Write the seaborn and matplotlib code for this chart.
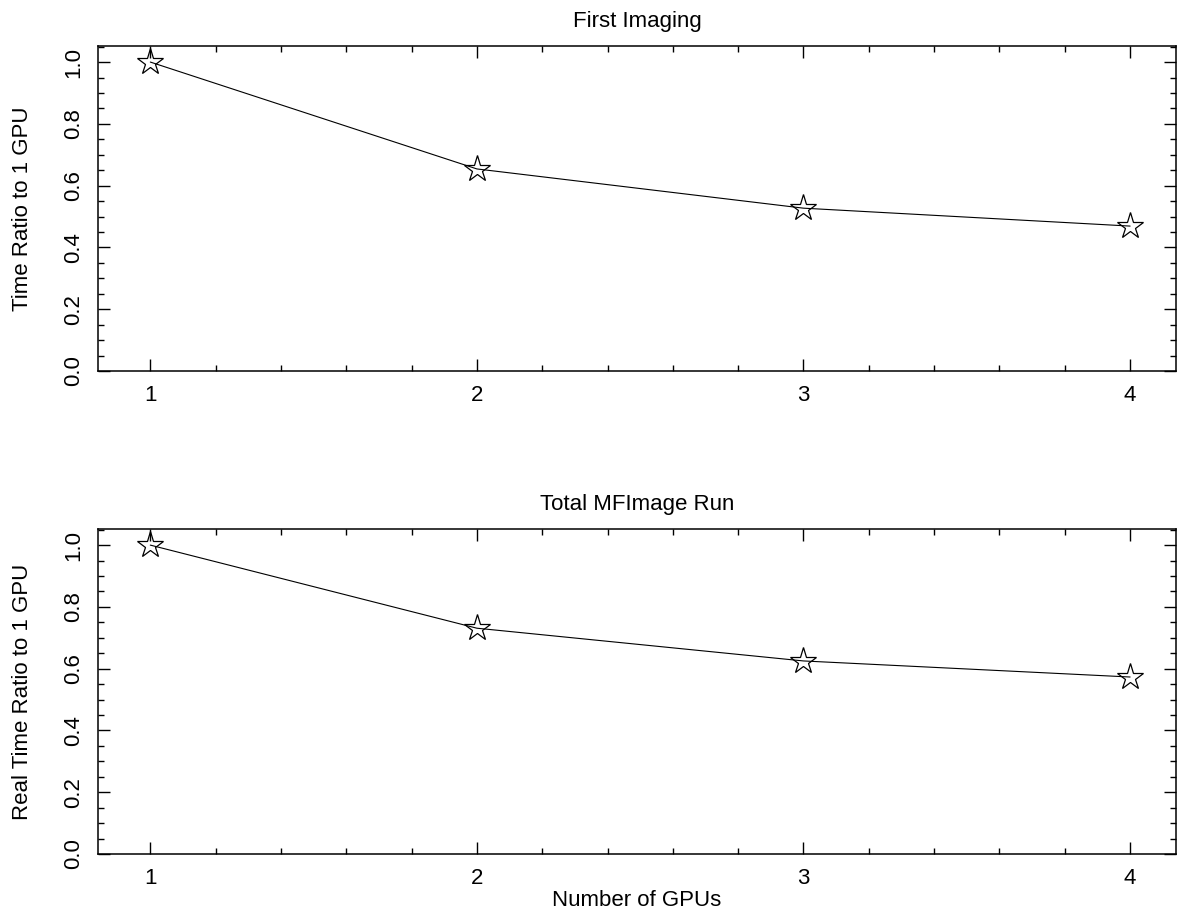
import matplotlib

matplotlib.use("Agg")

import matplotlib.pyplot as plt
from matplotlib.ticker import MultipleLocator
import seaborn as sns

# values
gpus = [1, 2, 3, 4]
first_imaging = [1.0, 0.654, 0.527, 0.469]
total_run = [1.0, 0.731, 0.625, 0.573]

titles = ["First Imaging", "Total MFImage Run"]
ylabels = ["Time Ratio to 1 GPU", "Real Time Ratio to 1 GPU"]

sns.set_style("ticks")
plt.rcParams["font.family"] = ["Liberation Sans", "DejaVu Sans"]
plt.rcParams["font.size"] = 16
plt.rcParams["text.color"] = "black"
plt.rcParams["axes.labelcolor"] = "black"
plt.rcParams["xtick.color"] = "black"
plt.rcParams["ytick.color"] = "black"
plt.rcParams["axes.edgecolor"] = "black"

fig = plt.figure(figsize=(11.77, 9.18), dpi=100)
ax_top = fig.add_axes([0.0833, 0.5959, 0.9157, 0.3540])
ax_bot = fig.add_axes([0.0833, 0.0697, 0.9157, 0.3540])

for ax, values, title, ylabel in zip(
    [ax_top, ax_bot], [first_imaging, total_run], titles, ylabels
):
    sns.lineplot(
        x=gpus,
        y=values,
        ax=ax,
        color="black",
        linewidth=0.8,
        marker="*",
        markersize=20,
        markerfacecolor="none",
        markeredgecolor="black",
        markeredgewidth=0.9,
    )
    ax.set_xlim(0.84, 4.14)
    ax.set_ylim(0, 1.052)
    ax.xaxis.set_major_locator(MultipleLocator(1))
    ax.xaxis.set_minor_locator(MultipleLocator(0.2))
    ax.yaxis.set_major_locator(MultipleLocator(0.2))
    ax.yaxis.set_minor_locator(MultipleLocator(0.05))
    ax.tick_params(which="both", direction="in", top=True, right=True,
                   width=1.0, color="black", labelcolor="black", labelsize=16)
    ax.tick_params(which="major", length=8.5, pad=10)
    ax.tick_params(which="minor", length=4.3)
    ax.tick_params(axis="y", labelrotation=90)
    ax.set_yticks([0, 0.2, 0.4, 0.6, 0.8, 1.0], ["0.0", "0.2", "0.4", "0.6", "0.8", "1.0"])
    for lab in ax.get_yticklabels():
        lab.set_verticalalignment("center")
    for spine in ax.spines.values():
        spine.set_linewidth(1.1)
        spine.set_color("black")
    ax.set_title(title, fontsize=16, pad=14, color="black")
    ax.set_ylabel(ylabel, fontsize=16, labelpad=22, color="black")

ax_bot.set_xlabel("Number of GPUs", fontsize=16, labelpad=1, color="black")

fig.savefig("out.png", dpi=100)
plt.close(fig)
